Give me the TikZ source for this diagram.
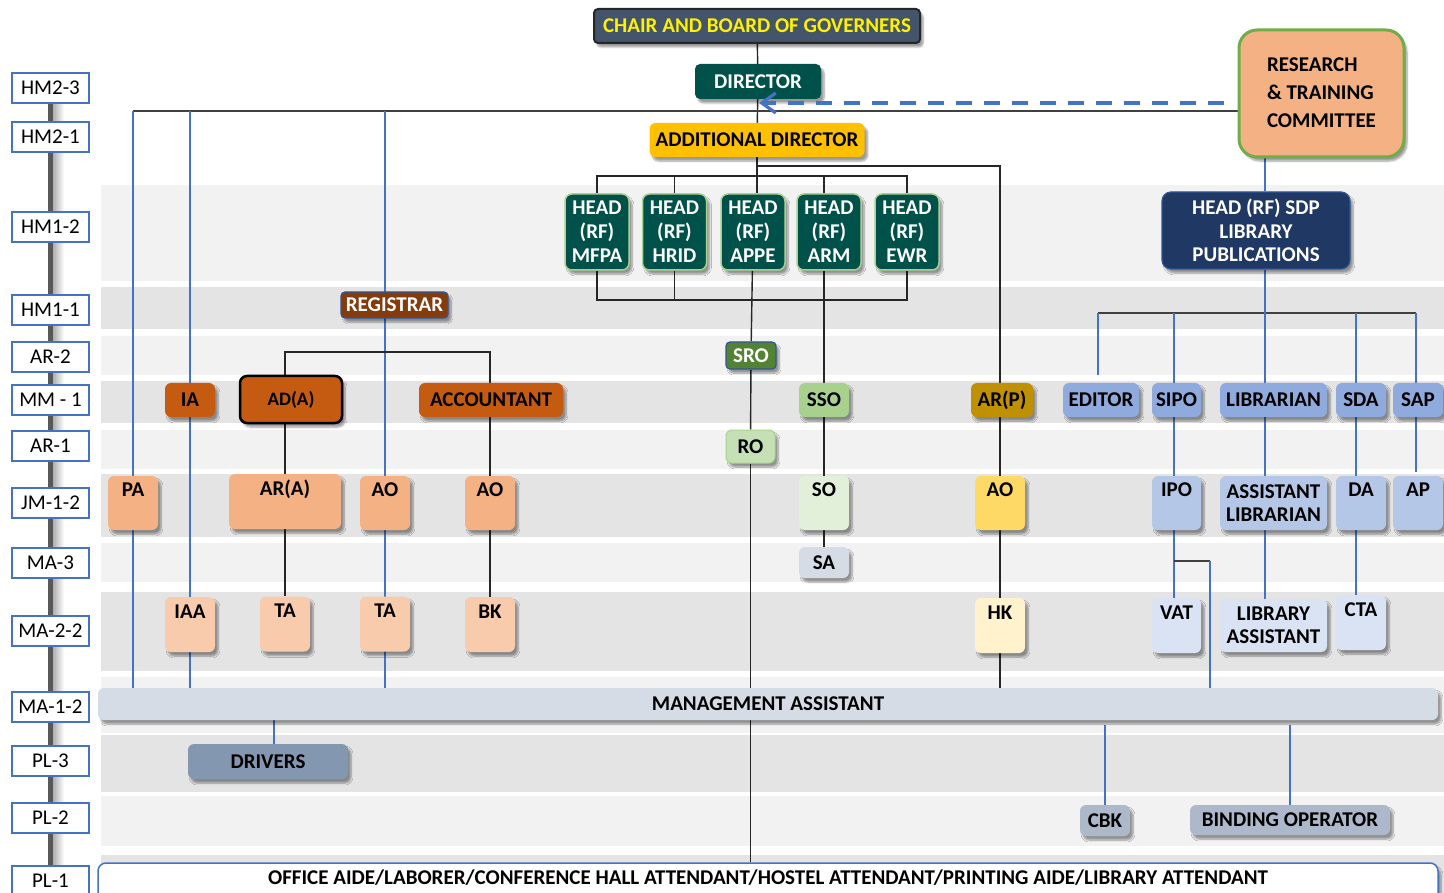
\documentclass[tikz,border=0pt]{standalone}
\usepackage{fontspec}
\setmainfont{Carlito}
\usetikzlibrary{arrows.meta, shadows.blur}

\definecolor{slate}{HTML}{44546A}
\definecolor{dirteal}{HTML}{00514A}
\definecolor{headedge}{HTML}{A9D18E}
\definecolor{amber}{HTML}{FFC000}
\definecolor{peach}{HTML}{F4B183}
\definecolor{lightpeach}{HTML}{F8CBAD}
\definecolor{rtcgreen}{HTML}{70AD47}
\definecolor{deepnavy}{HTML}{203864}
\definecolor{edgeblue}{HTML}{2F5597}
\definecolor{rust}{HTML}{843C0C}
\definecolor{burnt}{HTML}{C55A11}
\definecolor{srogreen}{HTML}{548235}
\definecolor{rofill}{HTML}{C5E0B4}
\definecolor{ssofill}{HTML}{A9D18E}
\definecolor{sofill}{HTML}{E2F0D9}
\definecolor{mist}{HTML}{D6DCE5}
\definecolor{ochre}{HTML}{BF9000}
\definecolor{butter}{HTML}{FFD966}
\definecolor{cream}{HTML}{FFF2CC}
\definecolor{blueA}{HTML}{8FAADC}
\definecolor{blueB}{HTML}{B4C7E7}
\definecolor{blueC}{HTML}{DAE3F3}
\definecolor{steel}{HTML}{8497B0}
\definecolor{pewter}{HTML}{ADB9CA}
\definecolor{wireblue}{HTML}{4472C4}
\definecolor{linkgray}{HTML}{262626}
\definecolor{busgray}{HTML}{404040}
\definecolor{bandlight}{HTML}{F2F2F2}
\definecolor{banddark}{HTML}{E4E4E4}

\pgfdeclarelayer{wires}
\pgfsetlayers{wires,main}

\begin{document}
\begin{tikzpicture}[x=1pt, y=-1pt,
    grade/.style={draw=wireblue, line width=1.5pt, fill=white, minimum width=77pt, minimum height=30pt, inner sep=0pt, font=\fontsize{21}{24}\selectfont},
    post/.style={fill=#1, rounded corners=6pt, inner sep=0pt, align=center, font=\bfseries\fontsize{21}{24}\selectfont,
        blur shadow={shadow xshift=3pt, shadow yshift=-4pt, shadow opacity=40, shadow blur steps=6}},
    mmbox/.style={minimum width=50pt, minimum height=34pt},
    jmbox/.style={minimum width=50pt, text height=20pt, text depth=34pt},
    mabox/.style={minimum width=50pt, text height=21pt, text depth=34pt},
    headbox/.style={post=dirteal, draw=headedge, line width=1.5pt, text=white, minimum width=64pt, minimum height=76pt, rounded corners=7pt},
    link/.style={draw=linkgray, line width=1.4pt},
    wire/.style={draw=wireblue, line width=1.3pt},
    dasharrow/.style={draw=wireblue, line width=3.2pt, dash pattern=on 16pt off 12pt, -{Straight Barb[length=14pt, width=20pt]}}
  ]
  \useasboundingbox (0,0) rectangle (1444,893);

  \coordinate (bus) at (133,111);
  \coordinate (dtip) at (759,103);
  \coordinate (pbus) at (757,166);
  \coordinate (hbus) at (757,176);
  \coordinate (hfoot) at (757,300);
  \coordinate (adbus) at (285,352);
  \coordinate (ed) at (1098,313);
  \coordinate (si) at (1174,313);
  \coordinate (li) at (1265,313);
  \coordinate (sd) at (1356,313);
  \coordinate (sp) at (1416,313);
  \coordinate (vb) at (1210,561);

  \foreach \g/\y in {HM2-3/88, HM2-1/137, HM1-2/227, HM1-1/310, AR-2/357, MM - 1/400, AR-1/446,
      JM-1-2/503, MA-3/563, MA-2-2/631, MA-1-2/707, PL-3/761, PL-2/818, PL-1/881}
    \node[grade] (g\y) at (50.5,\y) {\g};

  \node[post=slate, draw=linkgray, line width=2pt, text=yellow, rounded corners=4pt, minimum width=326pt, minimum height=34pt] (chair) at (757,26) {CHAIR AND BOARD OF GOVERNERS};
  \node[post=dirteal, text=white, minimum width=126pt, minimum height=35pt, rounded corners=5pt] (director) at (758,81.5) {DIRECTOR};
  \node[post=amber, minimum width=215pt, minimum height=34pt] (adir) at (757,140) {ADDITIONAL DIRECTOR};
  \node[post=peach, draw=rtcgreen, line width=3pt, rounded corners=18pt, minimum width=165pt, minimum height=127pt,
      font=\bfseries\fontsize{21}{28}\selectfont] (rtc) at (1321.5,93.5)
      {\raisebox{4pt}{\begin{tabular}{@{}l@{}}RESEARCH\\\& TRAINING\\COMMITTEE\end{tabular}}};

  \node[headbox] (mfpa) at (597,232) {HEAD\\(RF)\\MFPA};
  \node[headbox] (hrid) at (674.5,232) {HEAD\\(RF)\\HRID};
  \node[headbox] (appe) at (753,232) {HEAD\\(RF)\\APPE};
  \node[headbox] (arm) at (829,232) {HEAD\\(RF)\\ARM};
  \node[headbox] (ewr) at (907,232) {HEAD\\(RF)\\EWR};
  \node[post=deepnavy, draw=edgeblue, line width=1.2pt, text=white, rounded corners=9pt, minimum width=188pt, minimum height=77pt,
      font=\bfseries\fontsize{21}{23.5}\selectfont] (sdp) at (1256,230.5) {HEAD (RF) SDP\\LIBRARY\\PUBLICATIONS};

  \node[post=rust, draw=edgeblue, line width=1.2pt, text=white, rounded corners=4pt, minimum width=107pt, minimum height=26pt] (registrar) at (394.5,305) {REGISTRAR};
  \node[post=srogreen, draw=edgeblue, line width=1.2pt, text=white, rounded corners=4pt, minimum width=50pt, minimum height=27pt] (sro) at (751,355.5) {SRO};

  \node[post=burnt, mmbox] (ia) at (190,400) {IA};
  \node[post=burnt, draw=black, line width=2.5pt, rounded corners=7pt, minimum width=102pt, minimum height=47pt,
      font=\bfseries\fontsize{19}{22}\selectfont] (ada) at (291,399.5) {AD(A)};
  \node[post=burnt, mmbox, minimum width=144pt] (acct) at (491,400) {ACCOUNTANT};
  \node[post=ssofill, mmbox] (sso) at (824,400) {SSO};
  \node[post=ochre, mmbox, minimum width=62pt] (arp) at (1002,400) {AR(P)};
  \node[post=blueA, mmbox, minimum width=76pt] (editor) at (1101,400) {EDITOR};
  \node[post=blueA, mmbox, minimum width=49pt] (sipo) at (1176.5,400) {SIPO};
  \node[post=blueA, mmbox, minimum width=107pt] (librarian) at (1273.5,400) {LIBRARIAN};
  \node[post=blueA, mmbox] (sda) at (1361,400) {SDA};
  \node[post=blueA, mmbox] (sap) at (1418,400) {SAP};

  \node[post=rofill, draw=ssofill, line width=1pt, minimum width=49pt, minimum height=33pt] (ro) at (750.5,446.5) {RO};

  \node[post=peach, jmbox] (pa) at (133,503) {PA};
  \node[post=peach, jmbox, text height=21pt, minimum width=112pt] (ara) at (285,501.5) {AR(A)};
  \node[post=peach, jmbox] (aoa) at (385,503) {AO};
  \node[post=peach, jmbox] (aob) at (490,503) {AO};
  \node[post=sofill, jmbox] (so) at (824,503) {SO};
  \node[post=butter, jmbox] (aop) at (1000,503) {AO};
  \node[post=blueB, jmbox, minimum width=49pt] (ipo) at (1176.5,503) {IPO};
  \node[post=blueB, minimum width=107pt, minimum height=54pt, font=\bfseries\fontsize{21}{23}\selectfont] (alib) at (1273.5,503) {ASSISTANT\\LIBRARIAN};
  \node[post=blueB, jmbox] (da) at (1361,503) {DA};
  \node[post=blueB, jmbox] (ap) at (1418,503) {AP};

  \node[post=mist, minimum width=50pt, minimum height=31pt] (sa) at (824,562.5) {SA};

  \node[post=lightpeach, mabox] (iaa) at (190,624.5) {IAA};
  \node[post=lightpeach, mabox] (taa) at (285,624) {TA};
  \node[post=lightpeach, mabox] (tab) at (385,624) {TA};
  \node[post=lightpeach, mabox] (bk) at (490,624.5) {BK};
  \node[post=cream, mabox] (hk) at (1000,625.5) {HK};
  \node[post=blueC, mabox, minimum width=49pt] (vat) at (1176.5,625.5) {VAT};
  \node[post=blueC, minimum width=107pt, minimum height=53pt, font=\bfseries\fontsize{21}{23}\selectfont] (libasst) at (1273.5,625.5) {LIBRARY\\ASSISTANT};
  \node[post=blueC, mabox] (cta) at (1361,622.5) {CTA};

  \node[post=mist, minimum width=1340pt, minimum height=32pt] (mabar) at (768,704) {MANAGEMENT ASSISTANT};
  \node[post=steel, minimum width=160pt, minimum height=35pt] (drivers) at (268,761.5) {DRIVERS};
  \node[post=pewter, minimum width=50pt, minimum height=31pt] (cbk) at (1105,820.5) {CBK};
  \node[post=pewter, minimum width=200pt, minimum height=30pt] (binding) at (1290,820) {BINDING OPERATOR};
  \node[post=white, draw=wireblue, line width=1.5pt, rounded corners=8pt, minimum width=1340pt, text height=21pt, text depth=21pt] (office) at (768,884)
      {OFFICE AIDE/LABORER/CONFERENCE HALL ATTENDANT/HOSTEL ATTENDANT/PRINTING AIDE/LIBRARY ATTENDANT};

  \coordinate (drv) at ([xshift=6pt]drivers.north);

  \begin{pgfonlayer}{wires}
    \fill[bandlight] (101,185) rectangle (1444,281);
    \fill[banddark] (101,287) rectangle (1444,329);
    \fill[bandlight] (101,336) rectangle (1444,375);
    \fill[banddark] (101,381) rectangle (1444,423);
    \fill[bandlight] (101,430) rectangle (1444,469);
    \fill[banddark] (101,474) rectangle (1444,537);
    \fill[bandlight] (101,543) rectangle (1444,582);
    \fill[banddark] (101,592) rectangle (1444,671);
    \fill[bandlight] (101,677) rectangle (1444,733);
    \fill[banddark] (101,735) rectangle (1444,792);
    \fill[bandlight] (101,796) rectangle (1444,846);
    \fill[banddark] (101,855) rectangle (1444,893);

    \shade[left color=black!30, right color=white] (53.5,104) rectangle (64,866);
    \draw[line width=5pt, draw=black!65] (g88.south) -- (g881.north);

    \draw[link] (chair) -- (director);
    \draw[link] (director) -- (adir);
    \draw[link] (adir.south) -- (adir.south |- appe.north);
    \draw[link] (pbus) -| (aop.north);
    \draw[link] (aop) -- (hk);
    \draw[link] (hk) -- (hk |- mabar.north);
    \draw[draw=busgray, line width=2pt] (bus) -- (bus -| rtc.west);

    \draw[link] (mfpa.north) -- (mfpa.north |- hbus) -- (ewr.north |- hbus) -- (ewr.north);
    \draw[link] (hrid.north) -- (hrid.north |- hbus);
    \draw[link] (sso |- hbus) -- (sso |- arm.north);
    \draw[link] (mfpa.south) -- (mfpa.south |- hfoot) -- (ewr.south |- hfoot) -- (ewr.south);
    \draw[link] (hrid.south) -- (hrid.south |- hfoot);
    \draw[link] (appe) -- (sro);
    \draw[link] (sro) -- (ro);
    \draw[link] (ro) -- (ro |- mabar.north);
    \draw[link] (ro |- mabar.south) -- (ro |- office.north);
    \draw[link] (sso |- arm.south) -- (sso);
    \draw[link] (sso) -- (so);
    \draw[link] (so) -- (sa);

    \draw[wire] (bus) -- (bus |- mabar.north);
    \draw[wire] (ia |- bus) -- (ia |- mabar.north);
    \draw[wire] (aoa |- bus) -- (aoa |- mabar.north);

    \draw[link] (ara |- ada.north) -- (adbus) -- (aob |- adbus) -- (aob.north);
    \draw[link] (ara |- ada.south) -- (ara.north);
    \draw[link] (ara) -- (taa);
    \draw[link] (aob) -- (bk);

    \draw[draw=busgray, line width=1.5pt] (ed) -- (sp);
    \draw[wire, shorten >=8pt] (ed) -- (ed |- editor.north);
    \draw[wire] (si) -- (si |- vat.north);
    \draw[wire] (li |- rtc.south) -- (li |- sdp.north);
    \draw[wire] (li |- sdp.south) -- (li |- libasst.north);
    \draw[wire] (sd) -- (sd |- cta.north);
    \draw[wire, shorten >=4pt] (sp) -- (sp |- ap.north);
    \draw[draw=busgray, line width=1.5pt] (si |- vb) -- (vb);
    \draw[wire] (vb) -- (vb |- mabar.north);

    \draw[wire] (drv |- mabar.south) -- (drv);
    \draw[wire, shorten <=5pt] (cbk.north |- mabar.south) -- (cbk.north);
    \draw[wire, shorten <=5pt] (binding.north |- mabar.south) -- (binding.north);
  \end{pgfonlayer}

  \draw[dasharrow, shorten <=14pt] (dtip -| rtc.west) -- (dtip);
\end{tikzpicture}
\end{document}
